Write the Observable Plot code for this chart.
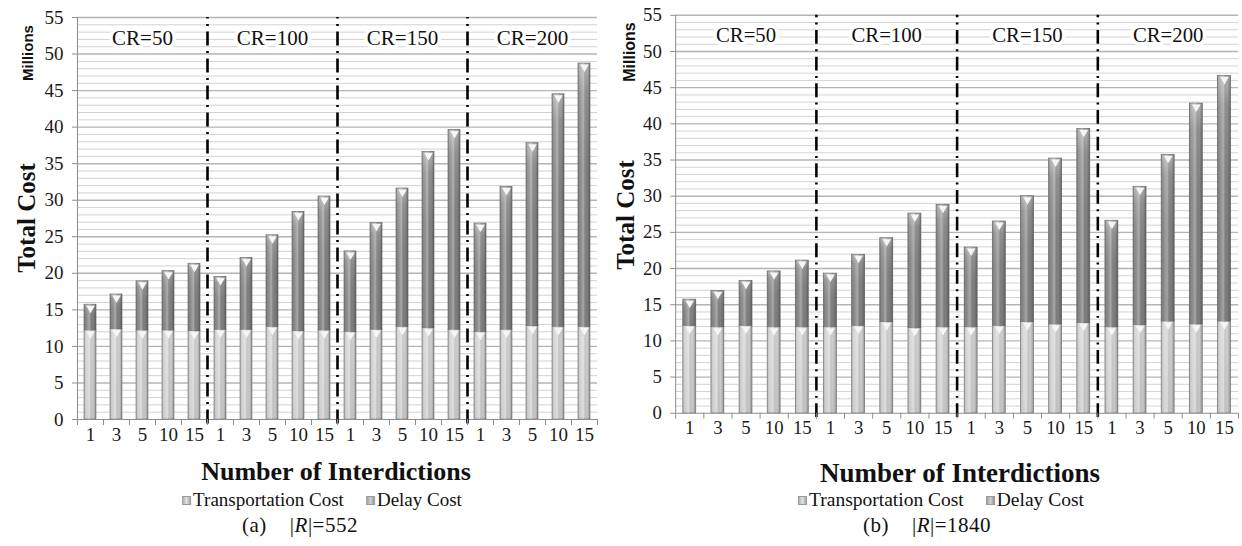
<!DOCTYPE html>
<html>
<head>
<meta charset="utf-8">
<script src="https://cdn.jsdelivr.net/npm/d3@7"></script>
<script src="https://cdn.jsdelivr.net/npm/@observablehq/plot@0.6"></script>
<style>
  html, body { margin: 0; padding: 0; background: #fff; overflow: hidden; }
  #wrap { position: relative; width: 1242px; height: 546px; overflow: hidden; background: #fff; }
  .abs { position: absolute; white-space: nowrap; transform: translate(-50%, -50%); color: #111; }
  .rot { transform: translate(-50%, -50%) rotate(-90deg); }
  .serif { font-family: "Liberation Serif", "Times New Roman", serif; }
  .sans { font-family: "Liberation Sans", Arial, sans-serif; }
  .sw { display: inline-block; width: 7px; height: 7px; border: 1px solid #9a9a9a; margin-right: 2px; vertical-align: 1px; }
  .svgbox { position: absolute; top: 0; }
  .svgbox svg, .svgbox svg text, .svgbox svg g { font-family: "Liberation Serif", "Times New Roman", serif !important; }
</style>
</head>
<body>
<div id="wrap"></div>
<script>
// ---------- data ----------
const interdictions = ["1", "3", "5", "10", "15"];
const crLevels = ["CR=50", "CR=100", "CR=150", "CR=200"];
const yTicks = [0, 5, 10, 15, 20, 25, 30, 35, 40, 45, 50, 55];
const seriesNames = ["Transportation Cost", "Delay Cost"];

// (a) |R|=552  (millions)
const transportA = [12.2, 12.4, 12.2, 12.2, 12.1, 12.3, 12.3, 12.7, 12.1, 12.2,
                    12.0, 12.3, 12.7, 12.5, 12.3, 12.0, 12.3, 12.8, 12.7, 12.7];
const delayA     = [3.5, 4.7, 6.7, 8.1, 9.2, 7.2, 9.8, 12.5, 16.3, 18.3,
                    11.0, 14.6, 18.9, 24.1, 27.3, 14.8, 19.5, 25.0, 31.8, 36.0];

// (b) |R|=1840  (millions)
const transportB = [12.1, 11.9, 12.1, 11.9, 11.9, 11.9, 12.1, 12.6, 11.8, 11.9,
                    11.9, 12.1, 12.6, 12.3, 12.5, 11.9, 12.2, 12.7, 12.3, 12.7];
const delayB     = [3.6, 5.0, 6.2, 7.7, 9.2, 7.4, 9.8, 11.6, 15.8, 16.9,
                    11.0, 14.4, 17.4, 22.9, 26.8, 14.7, 19.1, 23.0, 30.5, 33.9];

const SERIF = "Liberation Serif";

// ---------- chart ----------
function makeChart(id, transport, delay, dims) {
  const rows = transport.map((t, i) => ({i, t, total: t + delay[i]}));
  const nCat = rows.length;
  const groupSize = interdictions.length;
  const half = 0.23;
  const minor = d3.range(1, 56).filter(v => v % 5 !== 0);
  const major = yTicks.filter(v => v > 0);
  const dividers = d3.range(1, crLevels.length).map(g => g * groupSize);
  const tops = rows.flatMap(d => [{i: d.i, v: d.t}, {i: d.i, v: d.total}]);

  const svg = Plot.plot({
    width: dims.width,
    height: dims.height,
    marginLeft: dims.marginLeft,
    marginRight: dims.marginRight,
    marginTop: dims.marginTop,
    marginBottom: dims.marginBottom,
    style: "font-family: 'Liberation Serif', serif; font-size: 18px; background: transparent; overflow: visible; color: #1a1a1a;",
    x: {domain: [0, nCat], label: null},
    y: {domain: [0, 55], label: null},
    marks: [
      Plot.ruleY(minor, {stroke: "#d2d2d2", strokeWidth: 1}),
      Plot.ruleY(major, {stroke: "#b4b4b4", strokeWidth: 1.4}),
      Plot.ruleX([0], {y1: 0, y2: 55, stroke: "#8c8c8c"}),
      Plot.ruleY([0], {stroke: "#8c8c8c"}),
      Plot.rect(rows, {x1: d => d.i + 0.5 - half, x2: d => d.i + 0.5 + half, y1: 0, y2: "t",
        fill: `url(#${id}-t)`, stroke: "#8e8e8e", strokeWidth: 0.8}),
      Plot.rect(rows, {x1: d => d.i + 0.5 - half, x2: d => d.i + 0.5 + half, y1: "t", y2: "total",
        fill: `url(#${id}-d)`, stroke: "#777", strokeWidth: 0.8}),
      Plot.rect(rows, {x1: d => d.i + 0.5 - half, x2: d => d.i + 0.5 + half, y1: 0, y2: "total",
        fill: `url(#${id}-h)`}),
      Plot.dot(tops, {x: d => d.i + 0.5, y: "v", symbol: "triangle", rotate: 180, r: 3.2, dy: 3.5, fill: "#f6f6f6"}),
      Plot.ruleX(dividers, {y1: -0.6, y2: 55, stroke: "#000", strokeWidth: 2.6, strokeDasharray: "14,5.5,2,5.5"}),
      Plot.text(crLevels, {x: (d, k) => k * groupSize + groupSize / 2, y: 52.2, text: d => d,
        fontSize: 21, fontFamily: SERIF, fill: "#111", stroke: "#fff", strokeWidth: 7}),
      Plot.axisY(yTicks, {tickSize: 5, tickPadding: 9, stroke: "#8c8c8c", fontSize: 19, fontFamily: SERIF, fill: "#1a1a1a", label: null}),
      Plot.axisX(d3.range(0, nCat + 1), {tickSize: 6, tickFormat: () => "", stroke: "#8c8c8c", label: null}),
      Plot.axisX(d3.range(nCat).map(i => i + 0.5), {tickSize: 0, tickPadding: 8, fontSize: 19, fontFamily: SERIF, fill: "#1a1a1a",
        tickFormat: v => interdictions[Math.floor(v) % groupSize], label: null})
    ]
  });

  d3.select(svg).selectAll("text").style("font-family", "'Liberation Serif', serif");

  const defs = d3.select(svg).insert("defs", ":first-child");
  const addGrad = (gid, stops, vertical) => {
    const g = defs.append("linearGradient").attr("id", gid)
      .attr("x1", 0).attr("y1", 0).attr("x2", vertical ? 0 : 1).attr("y2", vertical ? 1 : 0);
    stops.forEach(([o, c, a]) => g.append("stop").attr("offset", o).attr("stop-color", c).attr("stop-opacity", a == null ? 1 : a));
  };
  addGrad(`${id}-t`, [[0, "#d8d8d8"], [1, "#cdcdcd"]], true);
  addGrad(`${id}-d`, [[0, "#b9b9b9"], [0.12, "#959595"], [0.4, "#858585"], [1, "#808080"]], true);
  addGrad(`${id}-h`, [[0, "#000", 0.2], [0.2, "#fff", 0.05], [0.45, "#fff", 0.3], [0.75, "#000", 0.02], [1, "#000", 0.28]], false);
  return svg;
}

const wrap = document.getElementById("wrap");

const boxA = document.createElement("div");
boxA.className = "svgbox"; boxA.style.left = "0px";
boxA.appendChild(makeChart("ca", transportA, delayA,
  {width: 600, height: 450, marginLeft: 77, marginRight: 3, marginTop: 17, marginBottom: 31}));
wrap.appendChild(boxA);

const boxB = document.createElement("div");
boxB.className = "svgbox"; boxB.style.left = "610px";
boxB.appendChild(makeChart("cb", transportB, delayB,
  {width: 640, height: 450, marginLeft: 66, marginRight: 4, marginTop: 15, marginBottom: 32}));
wrap.appendChild(boxB);

// ---------- text overlays ----------
function addText(html, x, y, cls, size, extra) {
  const d = document.createElement("div");
  d.className = "abs " + cls;
  d.style.left = x + "px"; d.style.top = y + "px";
  d.style.fontSize = size + "px";
  if (extra) Object.assign(d.style, extra);
  d.innerHTML = html;
  wrap.appendChild(d);
}
const legendHtml = `<span class="sw" style="background:linear-gradient(90deg,#b0b0b0,#e2e2e2,#a6a6a6)"></span>${seriesNames[0]}` +
  `<span style="display:inline-block;width:22px"></span>` +
  `<span class="sw" style="background:linear-gradient(90deg,#a0a0a0,#d0d0d0,#959595)"></span>${seriesNames[1]}`;

// panel (a)
addText("Millions", 27, 53, "sans rot", 15, {fontWeight: "bold"});
addText("Total Cost", 27, 218, "serif rot", 25, {fontWeight: "bold"});
addText("Number of Interdictions", 336, 472, "serif", 26, {fontWeight: "bold"});
addText(legendHtml, 322, 500, "serif", 19);
addText("(a)&nbsp;&nbsp;&nbsp; |<i>R</i>|=552", 300, 525, "serif", 21, {letterSpacing: "0.5px"});

// panel (b)
addText("Millions", 630, 52, "sans rot", 16, {fontWeight: "bold"});
addText("Total Cost", 626, 215, "serif rot", 25, {fontWeight: "bold"});
addText("Number of Interdictions", 960, 473, "serif", 27, {fontWeight: "bold"});
addText(legendHtml, 941, 500, "serif", 19.5);
addText("(b)&nbsp;&nbsp;&nbsp; |<i>R</i>|=1840", 927, 525, "serif", 21, {letterSpacing: "0.5px"});
</script>
</body>
</html>
